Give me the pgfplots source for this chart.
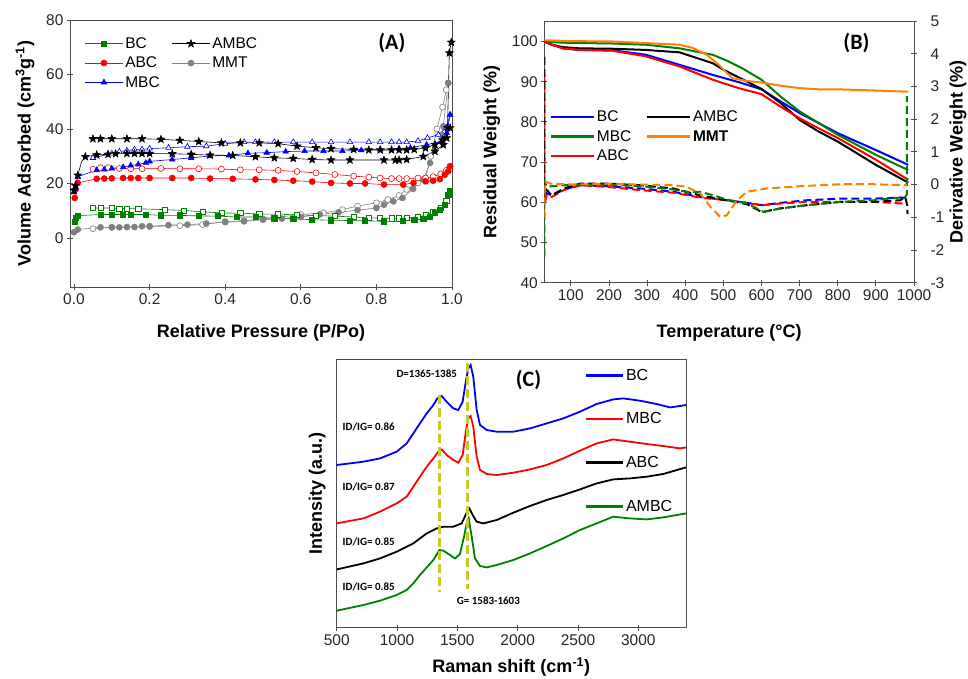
\documentclass[border=0pt]{standalone}
\usepackage{pgfplots}
\pgfplotsset{compat=1.18}
\usepackage{fontspec}
\setmainfont{Liberation Sans}
\newfontfamily\calib{Carlito}
\definecolor{cgreen}{RGB}{0,128,0}
\definecolor{cred}{RGB}{255,0,0}
\definecolor{cblue}{RGB}{0,0,255}
\definecolor{cgray}{RGB}{128,128,128}
\definecolor{corange}{RGB}{255,128,0}
\definecolor{cyel}{RGB}{200,200,40}
\pgfdeclareplotmark{fstar}{%
  \pgfpathmoveto{\pgfpointpolar{90}{\pgfplotmarksize}}%
  \pgfpathlineto{\pgfpointpolar{126}{0.42\pgfplotmarksize}}%
  \pgfpathlineto{\pgfpointpolar{162}{\pgfplotmarksize}}%
  \pgfpathlineto{\pgfpointpolar{198}{0.42\pgfplotmarksize}}%
  \pgfpathlineto{\pgfpointpolar{234}{\pgfplotmarksize}}%
  \pgfpathlineto{\pgfpointpolar{270}{0.42\pgfplotmarksize}}%
  \pgfpathlineto{\pgfpointpolar{306}{\pgfplotmarksize}}%
  \pgfpathlineto{\pgfpointpolar{342}{0.42\pgfplotmarksize}}%
  \pgfpathlineto{\pgfpointpolar{18}{\pgfplotmarksize}}%
  \pgfpathlineto{\pgfpointpolar{54}{0.42\pgfplotmarksize}}%
  \pgfpathclose\pgfusepathqfillstroke}
\pgfplotsset{
  every axis/.append style={
    scale only axis,
    /pgf/number format/assume math mode=true,
    /pgf/number format/1000 sep={},
    tick label style={font=\fontsize{15.5}{18}\selectfont, text=black!85},
    label style={font=\fontsize{18}{21}\selectfont\bfseries},
    axis line style={black!70, line width=0.8pt},
    every tick/.style={black!70, line width=0.8pt},
    tick align=center, major tick length=6pt, tick pos=left,
  },
  adsA/.style={#1, line width=0.6pt, mark options={solid, fill=#1}},
  desA/.style={#1, line width=0.6pt, mark options={solid, fill=white}},
}
\begin{document}
\begin{tikzpicture}[x=1pt,y=1pt]
\useasboundingbox (0,0) rectangle (968,678);
% ================= Panel A =================
\begin{axis}[at={(70pt,391pt)}, anchor=south west, width=382pt, height=267pt,
  xmin=-0.0106, xmax=1.0, ymin=-18, ymax=80,
  xtick={0,0.2,0.4,0.6,0.8,1.0}, ytick={0,20,40,60,80},
  xticklabel style={/pgf/number format/.cd, fixed, fixed zerofill, precision=1},
  clip=false,
  xlabel={Relative Pressure (P/Po)},
  ylabel={Volume Adsorbed (cm\textsuperscript{3}g\textsuperscript{-1})},
  xlabel style={at={(axis description cs:0.5,-0.172)}, anchor=center},
  ylabel style={at={(axis description cs:-0.118,0.5)}, anchor=center},
  legend columns=2,
  legend image code/.code={\draw[mark repeat=2,mark phase=2] plot coordinates {(0pt,0pt) (19pt,0pt) (38pt,0pt)};},
  legend style={at={(axis description cs:0.03,0.95)}, anchor=north west, draw=none, fill=none,
    font=\fontsize{15.5}{18}\selectfont, row sep=3pt,
    /tikz/every even column/.append style={column sep=10pt}},
  legend cell align=left,
]
\addlegendimage{adsA=cgreen, mark=square*, mark size=2.6pt}
\addlegendentry{BC}
\addlegendimage{adsA=black, mark=fstar, mark size=4pt}
\addlegendentry{AMBC}
\addlegendimage{adsA=cred, mark=*, mark size=3pt}
\addlegendentry{ABC}
\addlegendimage{adsA=cgray, mark=*, mark size=3pt}
\addlegendentry{MMT}
\addlegendimage{adsA=cblue, mark=triangle*, mark size=3.2pt}
\addlegendentry{MBC}
% MMT
\addplot[forget plot, desA=cgray, mark=*, mark size=3pt] coordinates {
(0.99,56.9)(0.985,54.4)(0.975,48)(0.96,40)(0.944,30)(0.93,22)(0.91,20.2)(0.88,17.8)(0.86,15.6)(0.83,14.1)(0.8,12.9)(0.75,11.7)(0.71,10.4)(0.66,9.2)(0.6,8.6)(0.55,7.8)(0.5,7.0)(0.45,6.3)(0.4,6.0)(0.34,4.9)(0.28,4.5)(0.2,4.2)(0.1,3.9)(0.05,3.4)};
\addplot[forget plot, adsA=cgray, mark=*, mark size=3pt] coordinates {
(0.0,2.1)(0.01,3.1)(0.07,3.9)(0.1,3.9)(0.12,3.9)(0.14,4.0)(0.16,4.0)(0.18,4.3)(0.2,4.3)(0.25,4.7)(0.3,4.9)(0.35,5.3)(0.4,5.8)(0.45,6.1)(0.5,6.7)(0.55,7.1)(0.6,7.7)(0.65,8.6)(0.7,9.4)(0.75,10.2)(0.8,11.0)(0.82,12.2)(0.845,13.4)(0.869,14.7)(0.897,18.0)(0.924,21.5)(0.942,27.5)(0.955,32.4)(0.972,37.9)(0.977,41.0)(0.99,56.9)};
% BC
\addplot[forget plot, desA=cgreen, mark=square*, mark size=2.6pt] coordinates {
(0.05,11.0)(0.07,11.0)(0.1,11.0)(0.12,10.8)(0.14,10.8)(0.17,10.7)(0.24,10.4)(0.29,10.1)(0.34,9.6)(0.39,9.2)(0.44,9.1)(0.49,8.8)(0.54,8.7)(0.59,8.5)(0.64,8.2)(0.69,8.0)(0.74,7.7)(0.78,7.4)(0.81,7.3)(0.84,7.2)(0.86,7.2)(0.88,7.4)(0.91,7.8)(0.93,8.3)(0.95,9.5)(0.97,11.0)(0.985,13.5)(0.995,17.1)};
\addplot[forget plot, adsA=cgreen, mark=square*, mark size=2.6pt] coordinates {
(0.002,5.8)(0.004,7.4)(0.01,8.2)(0.07,8.6)(0.1,8.6)(0.13,8.6)(0.15,8.6)(0.19,8.6)(0.23,8.3)(0.28,8.3)(0.33,8.1)(0.38,8.0)(0.43,7.7)(0.48,7.7)(0.53,7.2)(0.58,7.0)(0.63,6.7)(0.68,6.5)(0.73,6.4)(0.77,6.3)(0.82,6.1)(0.87,6.3)(0.90,6.6)(0.924,7.0)(0.942,7.9)(0.955,9.2)(0.968,10.4)(0.981,12.2)(0.99,15.8)(0.995,17.1)};
% ABC
\addplot[forget plot, desA=cred, mark=*, mark size=3pt] coordinates {
(0.05,25.2)(0.07,25.8)(0.09,25.8)(0.12,25.5)(0.15,25.4)(0.18,25.4)(0.23,25.5)(0.28,25.4)(0.33,25.4)(0.39,25.3)(0.44,25.0)(0.49,25.0)(0.54,24.8)(0.59,24.4)(0.64,23.9)(0.69,23.3)(0.74,22.7)(0.78,22.3)(0.81,22.0)(0.84,21.8)(0.86,21.8)(0.88,21.8)(0.91,22.0)(0.93,22.0)(0.95,22.5)(0.97,23.5)(0.985,24.8)(0.995,26.3)};
\addplot[forget plot, adsA=cred, mark=*, mark size=3pt] coordinates {
(0.002,14.7)(0.004,17.8)(0.01,20.2)(0.06,21.7)(0.08,21.8)(0.1,21.9)(0.13,22.0)(0.15,22.0)(0.17,22.0)(0.2,22.0)(0.26,22.0)(0.31,22.0)(0.36,21.8)(0.42,21.7)(0.48,21.5)(0.53,21.3)(0.58,21.0)(0.63,20.7)(0.68,20.2)(0.73,20.0)(0.77,20.0)(0.82,19.6)(0.871,19.6)(0.898,20.2)(0.93,20.8)(0.95,21.0)(0.968,21.6)(0.981,23.2)(0.99,24.5)(0.995,26.3)};
% MBC
\addplot[forget plot, desA=cblue, mark=triangle*, mark size=3.2pt] coordinates {
(0.05,29.4)(0.1,31.0)(0.12,31.7)(0.14,32.1)(0.16,32.5)(0.18,32.5)(0.2,32.8)(0.25,33.1)(0.3,33.5)(0.35,33.7)(0.4,34.6)(0.45,35.2)(0.48,35.2)(0.53,35.2)(0.58,35.2)(0.63,35.2)(0.68,35.2)(0.73,35.2)(0.78,35.2)(0.81,35.2)(0.84,35.2)(0.86,35.2)(0.88,35.2)(0.91,35.6)(0.935,36.7)(0.964,37.9)(0.985,40.5)(0.995,45.2)};
\addplot[forget plot, adsA=cblue, mark=triangle*, mark size=3.2pt] coordinates {
(0.0,16.8)(0.004,18.8)(0.01,22.5)(0.06,24.9)(0.08,25.1)(0.1,25.5)(0.13,26.0)(0.15,26.6)(0.17,27.0)(0.19,27.6)(0.2,28.1)(0.26,28.8)(0.31,29.4)(0.36,30.1)(0.41,30.3)(0.46,31.1)(0.51,31.3)(0.56,31.7)(0.61,31.9)(0.66,31.9)(0.71,31.9)(0.76,32.2)(0.81,32.5)(0.86,32.8)(0.89,33.1)(0.933,34.2)(0.973,35.5)(0.986,38.5)(0.995,45.2)};
% AMBC
\addplot[forget plot, adsA=black, mark=fstar, mark size=4pt] coordinates {
(0.998,71.8)(0.993,67.9)(0.988,40.5)(0.975,36.0)(0.955,34.3)(0.93,33.0)(0.9,32.5)(0.88,32.3)(0.86,32.3)(0.84,32.3)(0.81,32.3)(0.78,32.3)(0.74,32.5)(0.68,32.8)(0.64,33.1)(0.59,33.7)(0.54,34.6)(0.49,34.9)(0.44,34.9)(0.39,34.9)(0.33,35.4)(0.28,35.8)(0.23,36.2)(0.18,36.4)(0.14,36.4)(0.1,36.4)(0.07,36.4)(0.05,36.4)};
\addplot[forget plot, adsA=black, mark=fstar, mark size=4pt, mark indices={1,2,3,5,6,7,8,9,10,11,12,13,14,15,16,17,18,19,20,21,22,23,24,25,26,27,28,29,30,31}] coordinates {
(0.0,17.5)(0.004,19.2)(0.01,23)(0.02,28)(0.03,29.8)(0.06,30.5)(0.09,30.7)(0.11,30.9)(0.14,31.0)(0.16,31.0)(0.18,31.0)(0.2,31.0)(0.26,30.9)(0.31,30.7)(0.36,30.4)(0.42,30.3)(0.48,29.8)(0.53,29.4)(0.58,29.2)(0.63,28.8)(0.68,28.6)(0.73,28.6)(0.82,28.6)(0.85,28.6)(0.86,28.6)(0.88,28.8)(0.924,29.9)(0.955,31.8)(0.977,34.2)(0.986,36.7)(0.995,40.4)};
\node[font=\calib\bfseries\fontsize{22}{24}\selectfont] at (axis cs:0.841,71.7) {(A)};
\end{axis}
% ================= Panel B =================
\begin{axis}[at={(544.3pt,395.3pt)}, anchor=south west, width=369.7pt, height=261.7pt,
  xmin=30.5, xmax=1000, ymin=40, ymax=105.1,
  xtick={100,200,...,1000}, ytick={40,50,...,100},
  xlabel={Temperature (\textdegree C)}, ylabel={Residual Weight (\%)},
  xlabel style={at={(axis description cs:0.5,-0.192)}, anchor=center},
  ylabel style={at={(axis description cs:-0.142,0.5)}, anchor=center},
  legend columns=2,
  legend image code/.code={\draw[line width=2.6pt] (0pt,0pt) -- (43pt,0pt);},
  legend style={at={(axis description cs:0.005,0.672)}, anchor=north west, draw=none, fill=none,
    font=\fontsize{15.5}{18}\selectfont, row sep=3pt,
    /tikz/every even column/.append style={column sep=12pt}},
  legend cell align=left,
]
\addplot[cblue, line width=2pt] coordinates {(30.5,100)(50,99.2)(79,98.3)(123,97.9)(210,97.8)(297,96.7)(385,94.2)(472,91.7)(540,89.9)(600,88.1)(650,85.1)(700,82.2)(750,79.7)(800,77.2)(900,73)(985,69.3)};
\addlegendentry{BC}
\addplot[black, line width=2pt] coordinates {(30.5,100)(50,99.2)(79,98.6)(123,98.3)(210,98.2)(297,97.9)(385,97.3)(472,94.6)(500,93.0)(550,90.6)(600,88.2)(650,84.7)(700,80.5)(750,77.6)(800,75.1)(900,69.3)(985,64.9)};
\addlegendentry{AMBC}
\addplot[cgreen, line width=2pt] coordinates {(30.5,100)(79,99.7)(210,99.5)(297,99.2)(385,98.3)(472,96.7)(510,95.2)(550,93.3)(600,90.5)(650,86.3)(700,82.6)(750,79.7)(800,76.8)(900,71.8)(985,68)};
\addlegendentry{MBC}
\addplot[corange, line width=2pt] coordinates {(30.5,100.3)(100,100.1)(210,100)(297,99.6)(385,99.2)(420,98.4)(455,96.8)(488,94.2)(523,90.9)(560,90.2)(600,89.8)(650,89)(700,88.4)(750,88.1)(800,88.1)(900,87.8)(985,87.5)};
\addlegendentry{\textbf{MMT}}
\addplot[cred, line width=2pt] coordinates {(30.5,100)(50,99.2)(79,98.3)(123,97.9)(210,97.7)(297,96.3)(385,93.8)(472,90.5)(540,88.4)(600,86.9)(650,83.8)(700,80.9)(750,78.4)(800,76)(900,70.6)(985,65.6)};
\addlegendentry{ABC}
\node[font=\calib\bfseries\fontsize{22}{24}\selectfont] at (axis cs:849,99.7) {(B)};
\end{axis}
\begin{axis}[at={(544.3pt,395.3pt)}, anchor=south west, width=369.7pt, height=261.7pt,
  xmin=30.5, xmax=1000, ymin=-3, ymax=5,
  axis y line*=right, axis x line=none, ytick={-3,-2,...,5},
  ylabel={Derivative Weight (\%)},
  ylabel style={at={(axis description cs:1.119,0.5)}, anchor=center},
  yticklabel style={xshift=10pt},
  every axis plot/.append style={line width=2pt, dash pattern=on 8pt off 4pt},
]
\addplot[cblue] coordinates {(30.5,-0.2)(37,-0.28)(54,-0.33)(81,-0.15)(125,-0.02)(194,-0.05)(282,-0.12)(369,-0.22)(440,-0.38)(509,-0.48)(544,-0.53)(601,-0.63)(649,-0.56)(719,-0.48)(807,-0.43)(894,-0.43)(964,-0.40)(977,-0.40)};
\addplot[cred] coordinates {(30.5,3.4)(31,-0.6)(37,-0.33)(50,-0.38)(81,-0.17)(125,-0.02)(194,-0.07)(282,-0.17)(369,-0.25)(440,-0.4)(509,-0.48)(544,-0.53)(601,-0.63)(649,-0.58)(719,-0.53)(807,-0.53)(894,-0.53)(973,-0.58)(980,-0.58)};
\addplot[black] coordinates {(30.5,3.9)(31,-0.1)(33,-0.12)(50,-0.33)(81,-0.12)(125,0.03)(194,0.03)(282,-0.02)(369,-0.12)(440,-0.33)(509,-0.48)(562,-0.6)(601,-0.84)(649,-0.73)(719,-0.63)(807,-0.53)(894,-0.53)(964,-0.48)(977,-0.38)(982,-0.63)(983,-0.9)};
\addplot[cgreen] coordinates {(30.5,-2.2)(31,0.1)(37,-0.07)(50,-0.05)(107,0)(194,0)(282,-0.05)(369,-0.15)(404,-0.22)(440,-0.22)(474,-0.33)(509,-0.46)(562,-0.58)(606,-0.84)(649,-0.73)(719,-0.63)(807,-0.53)(894,-0.48)(977,-0.38)(981,-0.3)(981,2.7)};
\addplot[corange] coordinates {(30.5,-1.0)(32,0.1)(46,0.03)(107,0)(194,0.03)(282,0)(369,-0.02)(404,-0.07)(440,-0.28)(466,-0.68)(492,-0.99)(509,-0.94)(536,-0.48)(562,-0.22)(614,-0.12)(702,-0.05)(807,0.01)(894,0.01)(973,-0.02)(982,-0.02)};
\end{axis}
% ================= Panel C =================
\begin{axis}[at={(336.7pt,50.3pt)}, anchor=south west, width=349.3pt, height=268.7pt,
  xmin=500, xmax=3395, ymin=0, ymax=268.7,
  xtick={500,1000,...,3000}, ytick=\empty,
  xlabel={Raman shift (cm\textsuperscript{-1})}, ylabel={Intensity (a.u.)},
  xlabel style={at={(axis description cs:0.5,-0.146)}, anchor=center},
  ylabel style={at={(axis description cs:-0.056,0.5)}, anchor=center},
  legend image code/.code={\draw[line width=2.6pt] (0pt,0pt) -- (37pt,0pt);},
  legend style={at={(axis description cs:0.70,0.978)}, anchor=north west, draw=none, fill=none,
    font=\fontsize{16}{19}\selectfont, row sep=27pt},
  legend cell align=left,
  every axis plot/.append style={line width=1.8pt},
]
\addplot[cblue] coordinates {(500,162.7)(721,166)(859,169.3)(997,176)(1080,184.3)(1135,194.3)(1190,204.3)(1246,214.3)(1301,222.7)(1334,229.3)(1370,231.7)(1411,226)(1467,219.3)(1508,217.7)(1544,226)(1572,247.7)(1591,259.3)(1610,262.7)(1632,251)(1660,217.7)(1688,202.7)(1743,197.7)(1826,196)(1964,196)(2102,199.3)(2240,204.3)(2378,209.3)(2516,216)(2654,223.7)(2792,228.3)(2875,229.3)(3013,227)(3151,223.7)(3262,220.3)(3345,221.7)(3395,222.7)};
\addlegendentry{BC}
\addplot[cred] coordinates {(500,104.3)(721,109.3)(859,116)(997,124.3)(1080,131)(1135,141)(1190,151)(1246,161)(1301,169.3)(1342,176)(1370,178.3)(1411,172.7)(1467,167.7)(1508,165)(1544,172.7)(1572,197.7)(1591,209.3)(1610,211.7)(1632,201)(1660,171)(1688,157.7)(1743,153.7)(1826,152.7)(1964,155)(2102,158.3)(2240,162.7)(2378,169.3)(2516,177)(2654,184.3)(2792,188.3)(2930,186)(3068,183.7)(3206,181.7)(3345,179.3)(3395,180.3)};
\addlegendentry{MBC}
\addplot[black] coordinates {(500,58.3)(721,64.3)(859,69.3)(997,76)(1135,84.3)(1246,94.3)(1329,99.3)(1384,101)(1467,101)(1536,104.3)(1577,115)(1599,119.3)(1627,112.7)(1660,106)(1715,104.3)(1826,107.7)(1964,115)(2102,121.7)(2240,127.7)(2378,132.7)(2516,138.3)(2654,144.3)(2792,148.3)(2930,149.3)(3068,151)(3206,153.7)(3395,160.3)};
\addlegendentry{ABC}
\addplot[cgreen] coordinates {(500,17)(721,22.7)(859,27)(997,32.7)(1080,37.7)(1135,44.3)(1190,52.7)(1246,60.3)(1301,67.7)(1351,77.7)(1384,77)(1439,72.7)(1481,69.3)(1522,73.7)(1555,91)(1577,104.3)(1594,109.3)(1619,91)(1646,69.3)(1688,61.7)(1743,60.3)(1826,62.7)(1964,67.7)(2102,74.3)(2240,81.7)(2378,89.3)(2516,97.7)(2654,104.3)(2792,111)(2930,109.3)(3068,108.3)(3206,110.3)(3395,114.3)};
\addlegendentry{AMBC}
\addplot[forget plot, cyel, line width=3pt, dash pattern=on 9pt off 4pt] coordinates {(1351,232.7)(1351,36)};
\addplot[forget plot, cyel, line width=3pt, dash pattern=on 9pt off 4pt] coordinates {(1585,265)(1585,39)};
\node[font=\calib\bfseries\fontsize{11}{13}\selectfont] at (axis cs:1246,254.3) {D=1365-1385};
\node[font=\calib\bfseries\fontsize{11}{13}\selectfont] at (axis cs:1757,27) {G= 1583-1603};
\node[font=\calib\bfseries\fontsize{11}{13}\selectfont, anchor=west] at (axis cs:520,201) {ID/IG= 0.86};
\node[font=\calib\bfseries\fontsize{11}{13}\selectfont, anchor=west] at (axis cs:520,141) {ID/IG= 0.87};
\node[font=\calib\bfseries\fontsize{11}{13}\selectfont, anchor=west] at (axis cs:520,86) {ID/IG= 0.85};
\node[font=\calib\bfseries\fontsize{11}{13}\selectfont, anchor=west] at (axis cs:520,41) {ID/IG= 0.85};
\node[font=\calib\bfseries\fontsize{22}{24}\selectfont] at (axis cs:2089,247.7) {(C)};
\end{axis}
\end{tikzpicture}
\end{document}
